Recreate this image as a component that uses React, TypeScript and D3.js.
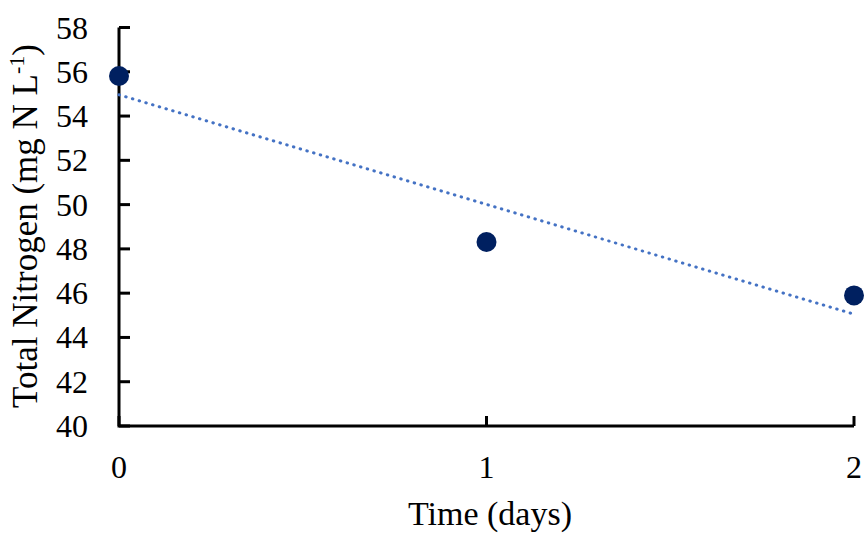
import React from "react";
import * as d3 from "d3";

const days = [0, 1, 2];
const totalNitrogen = [55.81, 48.31, 45.9];
const yTicks = [40, 42, 44, 46, 48, 50, 52, 54, 56, 58];
const xTicks = [0, 1, 2];

const W = 865;
const H = 533;
const FONT = "'Liberation Serif', 'Times New Roman', serif";

export default function App() {
  const x = d3.scaleLinear().domain([0, 2]).range([119, 854]);
  const y = d3.scaleLinear().domain([40, 58]).range([426, 27.5]);

  // linear least-squares trendline
  const mx = d3.mean(days)!;
  const my = d3.mean(totalNitrogen)!;
  const num = d3.sum(days.map((d, i) => (d - mx) * (totalNitrogen[i] - my)));
  const den = d3.sum(days.map((d) => (d - mx) * (d - mx)));
  const slope = num / den;
  const intercept = my - slope * mx;
  const trend: [number, number][] = [0, 2].map((d) => [d, intercept + slope * d]);
  const line = d3
    .line<[number, number]>()
    .x((d) => x(d[0]))
    .y((d) => y(d[1]));

  return (
    <svg
      width={W}
      height={H}
      style={{ position: "absolute", left: 0, top: 0, background: "#fff" }}
      fontFamily={FONT}
    >
      {/* axes */}
      <path
        d={`M${x(0)},${y(58)}V${y(40)}H${x(2)}`}
        fill="none"
        stroke="#000"
        strokeWidth={3}
      />
      {yTicks.map((t) => (
        <g key={"y" + t}>
          <line x1={x(0)} x2={x(0) + 11} y1={y(t)} y2={y(t)} stroke="#000" strokeWidth={3} />
          <text x={88} y={y(t) + 11} textAnchor="end" fontSize={32} fill="#000">
            {t}
          </text>
        </g>
      ))}
      {xTicks.map((t) => (
        <g key={"x" + t}>
          <line x1={x(t)} x2={x(t)} y1={y(40)} y2={y(40) - 10} stroke="#000" strokeWidth={3} />
          <text x={x(t)} y={478} textAnchor="middle" fontSize={32} fill="#000">
            {t}
          </text>
        </g>
      ))}

      {/* trendline */}
      <path
        d={line(trend) || ""}
        fill="none"
        stroke="#4472C4"
        strokeWidth={3}
        strokeDasharray="0.5 6.5"
        strokeLinecap="round"
      />

      {/* points */}
      {days.map((d, i) => (
        <circle key={"p" + i} cx={x(d)} cy={y(totalNitrogen[i])} r={10} fill="#002060" />
      ))}

      {/* axis titles */}
      <text x={490} y={525} textAnchor="middle" fontSize={34} fill="#000">
        Time (days)
      </text>
      <text
        transform="translate(37,226) rotate(-90)"
        textAnchor="middle"
        fontSize={35}
        fill="#000"
      >
        Total Nitrogen (mg N L
        <tspan fontSize={22} dy={-13}>-1</tspan>
        <tspan dy={13}>)</tspan>
      </text>
    </svg>
  );
}
